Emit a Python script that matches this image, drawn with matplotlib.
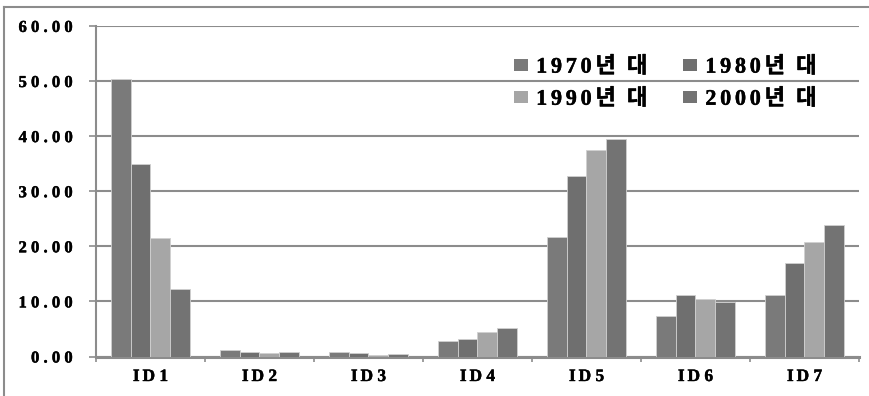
import matplotlib
matplotlib.use("Agg")
import matplotlib.pyplot as plt
import matplotlib.patheffects as pe
from matplotlib.lines import Line2D
from matplotlib.patches import Patch
import numpy as np

# Regions and decade shares
categories = ["ID 1", "ID 2", "ID 3", "ID 4", "ID 5", "ID 6", "ID 7"]
decades = ["1970년 대", "1980년 대", "1990년 대", "2000년 대"]
v1970 = [50.4, 1.2, 0.8, 2.8, 21.7, 7.4, 11.2]
v1980 = [34.9, 0.9, 0.6, 3.1, 32.8, 11.2, 16.9]
v1990 = [21.5, 0.6, 0.35, 4.4, 37.5, 10.5, 20.8]
v2000 = [12.2, 0.8, 0.5, 5.2, 39.5, 9.9, 23.8]
y_ticks = [0, 10, 20, 30, 40, 50, 60]

series = [v1970, v1980, v1990, v2000]
colors = ["#7a7a7a", "#6f6f6f", "#a6a6a6", "#737373"]

SERIF = ["Liberation Serif", "Noto Sans CJK KR", "DejaVu Sans"]
GRID = "#8c8c8c"
BOLDEN = [pe.withStroke(linewidth=0.3, foreground="black")]


def spaced_number(s):
    return " ".join(list(s))


def legend_label(s):
    year, rest = s[:4], s[4:]
    # digits slightly spread, wider gap before the last syllable
    return "\u2006".join(list(year)) + "\u2006" + rest.replace(" ", "\u2002")


def axis_label(s):
    prefix, num = s.split()
    return "\u2006".join(list(prefix)) + " " + num


fig = plt.figure(figsize=(8.7, 3.96), dpi=100)
ax = fig.add_axes([96 / 870, 1 - 356.5 / 396, 763 / 870, 330.6 / 396])

x = np.arange(len(categories))
bw = 0.18
offsets = [-1.5 * bw, -0.5 * bw, 0.5 * bw, 1.5 * bw]
handles = []
for vals, off, col, lab in zip(series, offsets, colors, decades):
    ax.bar(x + off, vals, width=bw, color=col, edgecolor="#d0d0d0",
           linewidth=0.6, zorder=3)
    handles.append(Patch(facecolor=col, edgecolor="none", label=lab))

ax.set_xlim(-0.5, len(categories) - 0.5)
ax.set_ylim(0, 60)

# horizontal gridlines
ax.set_yticks(y_ticks)
ylabels = ax.set_yticklabels([spaced_number(f"{t:.2f}") for t in y_ticks],
                             family=SERIF, fontweight="bold", fontsize=12)
ax.yaxis.grid(True, color=GRID, linewidth=1.5, zorder=0)
ax.tick_params(axis="y", length=5, width=1.2, color=GRID, pad=12)

# category boundaries as major ticks, names on minor ticks
ax.set_xticks(np.arange(len(categories) + 1) - 0.5)
ax.set_xticklabels([])
ax.set_xticks(x, minor=True)
xlabels = ax.set_xticklabels([axis_label(c) for c in categories], minor=True,
                             family=SERIF, fontweight="bold", fontsize=12.5)
ax.tick_params(axis="x", which="major", length=3.5, width=1.2, color=GRID,
               direction="out")
ax.tick_params(axis="x", which="minor", length=0, pad=9)
for t in list(ylabels) + list(xlabels):
    t.set_path_effects(BOLDEN)

for side in ["top", "right"]:
    ax.spines[side].set_visible(False)
ax.spines["left"].set_color(GRID)
ax.spines["left"].set_linewidth(1.5)
ax.spines["bottom"].set_color(GRID)
ax.spines["bottom"].set_linewidth(2.2)
ax.set_axisbelow(True)

# legend laid out row-wise: 1970, 1980 / 1990, 2000
order = [0, 2, 1, 3]
leg = ax.legend([handles[i] for i in order],
                [legend_label(decades[i]) for i in order],
                ncol=2, frameon=False, loc="upper left",
                bbox_to_anchor=(0.548, 0.907), borderaxespad=0, borderpad=0,
                handlelength=0.63, handleheight=0.45, handletextpad=0.36,
                columnspacing=1.6, labelspacing=0.5,
                prop={"family": SERIF, "weight": "bold", "size": 16})
for t in leg.get_texts():
    t.set_path_effects(BOLDEN)

# outer chart frame
fig.add_artist(Line2D([4.5 / 870, 4.5 / 870], [0, 1 - 7 / 396],
                      transform=fig.transFigure, color=GRID, linewidth=1.5))
fig.add_artist(Line2D([4.5 / 870, 1], [1 - 7 / 396, 1 - 7 / 396],
                      transform=fig.transFigure, color=GRID, linewidth=1.5))

fig.savefig("out.png", dpi=100)
